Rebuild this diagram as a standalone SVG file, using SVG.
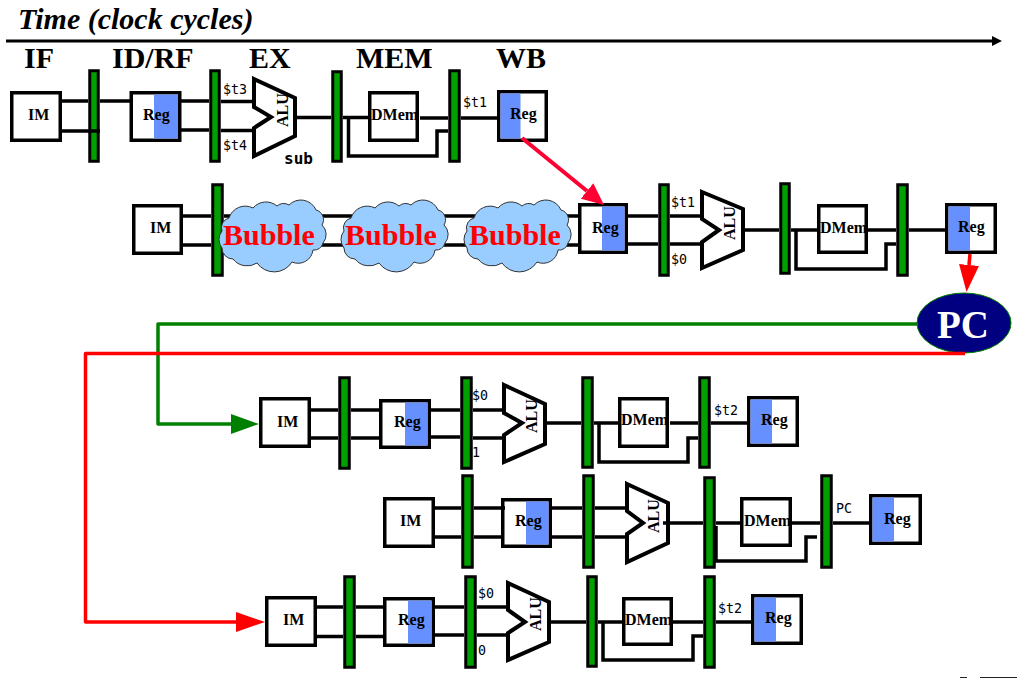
<svg xmlns="http://www.w3.org/2000/svg" width="1022" height="678" viewBox="0 0 1022 678">
<style>
.box{fill:#fff;stroke:#000;stroke-width:3.5}
.blue{fill:#6690ff}
.latch{fill:#00a000;stroke:#000;stroke-width:3}
.alu{fill:#fff;stroke:#000;stroke-width:4;stroke-miterlimit:8}
.wire{fill:none;stroke:#000;stroke-width:3.5}
.serif{font-family:"Liberation Serif",serif;font-weight:700;fill:#000}
.s{font-size:16px}
.head{font-size:30px}
.mono{font-family:"DejaVu Sans Mono",monospace;font-size:13.3px;fill:#000}
.bub{font-family:"Liberation Serif",serif;font-weight:700;font-size:30px;fill:#f00}
.cloud{fill:#99ccff;stroke:#333;stroke-width:1}
.g{fill:none;stroke:#008000;stroke-width:3.5}
.r{fill:none;stroke:#f00;stroke-width:3.5}
.c{fill:none;stroke:#ff0033;stroke-width:4}
</style>
<defs>
<marker id="mk" markerUnits="userSpaceOnUse" markerWidth="10" markerHeight="10" viewBox="0 0 10 10" refX="0" refY="5" orient="auto"><path d="M0 0L10 5L0 10z" fill="#000"/></marker>
<marker id="mg" markerUnits="userSpaceOnUse" markerWidth="28" markerHeight="20" viewBox="0 0 28 20" refX="0" refY="10" orient="auto"><path d="M0 0L28 10L0 20z" fill="#008000"/></marker>
<marker id="mr" markerUnits="userSpaceOnUse" markerWidth="29" markerHeight="20" viewBox="0 0 29 20" refX="0" refY="10" orient="auto"><path d="M0 0L29 10L0 20z" fill="#f00"/></marker>
<marker id="mr2" markerUnits="userSpaceOnUse" markerWidth="27" markerHeight="20" viewBox="0 0 27 20" refX="0" refY="10" orient="auto"><path d="M0 0L27 10L0 20z" fill="#f00"/></marker>
<marker id="mc" markerUnits="userSpaceOnUse" markerWidth="22" markerHeight="20" viewBox="0 0 22 20" refX="0" refY="10" orient="auto"><path d="M0 0L22 10L0 20z" fill="#ff0033"/></marker>
<path id="cl" d="M10 17A17 17 0 0 1 34 7A17 17 0 0 1 58 5A10 10 0 0 1 70 4A16.500 16.500 0 0 1 97 9A10 10 0 0 1 103 24A13 13 0 0 1 104 42A9 9 0 0 1 94 49A15 15 0 0 1 73 61A21 21 0 0 1 38 62A18 18 0 0 1 14 58A11 11 0 0 1 3 47A13.500 13.500 0 0 1 3 30A10 10 0 0 1 10 17z"/>
</defs>

<g id="title">
<text x="18" y="29" font-family="Liberation Serif,serif" font-weight="700" font-style="italic" font-size="30px" fill="#000">Time (clock cycles)</text>
<text class="serif head" x="24" y="68">IF</text>
<text class="serif head" x="112" y="68">ID/RF</text>
<text class="serif head" x="249" y="68">EX</text>
<text class="serif head" x="356" y="68">MEM</text>
<text class="serif head" x="496" y="68">WB</text>
</g>

<g id="r1-im"><rect class="box" x="11.75" y="92.75" width="48.5" height="47.5"/><text class="serif s" x="28" y="120">IM</text></g>
<g id="r1-l1"><rect class="latch" x="89.75" y="70.75" width="8.5" height="90.5"/></g>
<g id="r1-reg"><rect class="box" x="131.25" y="92.75" width="48.5" height="47.5"/><rect class="blue" x="154" y="94.5" width="24" height="44"/><text class="serif s" x="143" y="120">Reg</text></g>
<g id="r1-l2"><rect class="latch" x="210.75" y="70.75" width="8.5" height="90.5"/></g>
<g id="r1-alu"><path class="alu" d="M254 79L295 98V136L254 156V128L271 117L254 107z"/><text class="serif s" transform="translate(288 127) rotate(-90)">ALU</text></g>
<g id="r1-l3"><rect class="latch" x="332.75" y="71.75" width="8.5" height="89.5"/></g>
<g id="r1-dmem"><rect class="box" x="369.75" y="92.75" width="47.5" height="47.5"/><text class="serif s" x="371" y="120">DMem</text></g>
<g id="r1-l4"><rect class="latch" x="449.75" y="70.75" width="9.5" height="90.5"/></g>
<g id="r1-wb"><rect class="box" x="498.75" y="91.75" width="47.5" height="48.5"/><rect class="blue" x="500.5" y="93.5" width="20" height="45"/><text class="serif s" x="510" y="119">Reg</text></g>

<g id="r2-im"><rect class="box" x="133.75" y="205.75" width="47.5" height="47.5"/><text class="serif s" x="150" y="233">IM</text></g>
<g id="r2-l1"><rect class="latch" x="212.75" y="184.75" width="9.5" height="90.5"/></g>
<g id="r2-reg"><rect class="box" x="579.75" y="204.75" width="46.5" height="47.5"/><rect class="blue" x="602" y="206.5" width="22.5" height="44"/><text class="serif s" x="592" y="233">Reg</text></g>
<g id="r2-l2"><rect class="latch" x="659.75" y="184.75" width="8.5" height="90.5"/></g>
<g id="r2-alu"><path class="alu" d="M702 192L743 209V250L702 268V242L719 230L702 219z"/><text class="serif s" transform="translate(735 240) rotate(-90)">ALU</text></g>
<g id="r2-l3"><rect class="latch" x="780.75" y="183.75" width="8.5" height="89.5"/></g>
<g id="r2-dmem"><rect class="box" x="818.75" y="205.75" width="47.5" height="46.5"/><text class="serif s" x="820" y="233">DMem</text></g>
<g id="r2-l4"><rect class="latch" x="897.75" y="184.75" width="9.5" height="90.5"/></g>
<g id="r2-wb"><rect class="box" x="946.75" y="204.75" width="48.5" height="47.5"/><rect class="blue" x="948.5" y="206.5" width="21.5" height="44"/><text class="serif s" x="958" y="232">Reg</text></g>

<g id="pc"><ellipse cx="964" cy="323" rx="47" ry="30" fill="#000080" stroke="#008000" stroke-width="1"/><text x="937" y="338" font-family="Liberation Serif,serif" font-weight="700" font-size="39px" fill="#fff">PC</text></g>

<g id="r3-im"><rect class="box" x="260.75" y="398.75" width="48.5" height="47.5"/><text class="serif s" x="277" y="427">IM</text></g>
<g id="r3-l1"><rect class="latch" x="339.75" y="377.75" width="9.5" height="90.5"/></g>
<g id="r3-reg"><rect class="box" x="380.75" y="400.75" width="48.5" height="46.5"/><rect class="blue" x="405" y="402.5" width="22.5" height="43"/><text class="serif s" x="394" y="427">Reg</text></g>
<g id="r3-l2"><rect class="latch" x="461.75" y="377.75" width="9.5" height="90.5"/></g>
<g id="r3-alu"><path class="alu" d="M504 385L545 404V444L504 462V435L522 423L504 413z"/><text class="serif s" transform="translate(537 433) rotate(-90)">ALU</text></g>
<g id="r3-l3"><rect class="latch" x="582.75" y="377.75" width="9.5" height="89.5"/></g>
<g id="r3-dmem"><rect class="box" x="619.75" y="398.75" width="47.5" height="47.5"/><text class="serif s" x="621" y="425">DMem</text></g>
<g id="r3-l4"><rect class="latch" x="699.75" y="377.75" width="9.5" height="89.5"/></g>
<g id="r3-wb"><rect class="box" x="748.75" y="397.75" width="48.5" height="47.5"/><rect class="blue" x="750.5" y="399.5" width="21.5" height="44"/><text class="serif s" x="761" y="425">Reg</text></g>

<g id="r4-im"><rect class="box" x="384.75" y="498.75" width="48.5" height="47.5"/><text class="serif s" x="400" y="526">IM</text></g>
<g id="r4-l1"><rect class="latch" x="462.75" y="475.75" width="9.5" height="91.5"/></g>
<g id="r4-reg"><rect class="box" x="502.75" y="499.75" width="47.5" height="46.5"/><rect class="blue" x="526" y="501.5" width="22.5" height="43"/><text class="serif s" x="515" y="526">Reg</text></g>
<g id="r4-l2"><rect class="latch" x="583.75" y="475.75" width="9.5" height="91.5"/></g>
<g id="r4-alu"><path class="alu" d="M627 484L668 503V543L627 562V534L643 523L627 511z"/><text class="serif s" transform="translate(659 533) rotate(-90)">ALU</text></g>
<g id="r4-l3"><rect class="latch" x="704.75" y="477.75" width="9.5" height="89.5"/></g>
<g id="r4-dmem"><rect class="box" x="741.75" y="498.75" width="48.5" height="46.5"/><text class="serif s" x="744" y="526">DMem</text></g>
<g id="r4-l4"><rect class="latch" x="821.75" y="475.75" width="9.5" height="91.5"/></g>
<g id="r4-wb"><rect class="box" x="870.75" y="495.75" width="49.5" height="47.5"/><rect class="blue" x="872.5" y="497.5" width="21.5" height="44"/><text class="serif s" x="884" y="524">Reg</text></g>

<g id="r5-im"><rect class="box" x="266.75" y="597.75" width="48.5" height="47.5"/><text class="serif s" x="283" y="625">IM</text></g>
<g id="r5-l1"><rect class="latch" x="344.75" y="576.75" width="9.5" height="90.5"/></g>
<g id="r5-reg"><rect class="box" x="384.75" y="598.75" width="48.5" height="46.5"/><rect class="blue" x="408" y="600.5" width="23.5" height="43"/><text class="serif s" x="398" y="625">Reg</text></g>
<g id="r5-l2"><rect class="latch" x="465.75" y="576.75" width="9.5" height="90.5"/></g>
<g id="r5-alu"><path class="alu" d="M508 583L549 602V642L508 660V633L525 622L508 610z"/><text class="serif s" transform="translate(541 631) rotate(-90)">ALU</text></g>
<g id="r5-l3"><rect class="latch" x="587.75" y="576.75" width="8.5" height="89.5"/></g>
<g id="r5-dmem"><rect class="box" x="623.75" y="598.75" width="47.5" height="45.5"/><text class="serif s" x="625" y="625">DMem</text></g>
<g id="r5-l4"><rect class="latch" x="704.75" y="576.75" width="9.5" height="90.5"/></g>
<g id="r5-wb"><rect class="box" x="752.75" y="595.75" width="48.5" height="47.5"/><rect class="blue" x="754.5" y="597.5" width="21.5" height="44"/><text class="serif s" x="765" y="623">Reg</text></g>

<g id="connectors">
<path d="M6 41H992" fill="none" stroke="#000" stroke-width="3" marker-end="url(#mk)"/>
<path class="wire" d="M62 101H88M62 131H100M100 101H131M178 101H209M178 130H209M221 101.500H254M221 130.500H254M295 117.500H331M343 117.500H368M420 118H448M348.500 117V156H437V131H448M461 118H497"/>
<path class="wire" d="M183 216H211M183 245H211M224 216H578M224 245H578M628 216H658M628 244H658M670 216H702M670 244H702M743 230H779M791 230H817M868 230H896M796 230V269H886V244H896M909 230H945"/>
<path class="wire" d="M311 410H338M311 438H338M351 410H380M351 438H382M430 410H460M430 437H460M473 410H504M473 438H504M546 423H581M594 423H618M670 423H698M599 423V462H688V438H698M711 423H747"/>
<path class="wire" d="M435 508H461M435 537H461M474 508H505M474 537H501M552 508H582M552 537H582M595 508H627M595 537H627M663 523H703M716 523H740M792 523H820M716 526V561H806V537H817M833 523H869"/>
<path class="wire" d="M317 607H343M317 636.500H343M356 607H385M356 636.500H385M435 607H464M435 635H464M477 607H508M477 635H508M549 622H586M598 622H622M673 622H703M603 622V660H693V636H703M716 622H751"/>
<path class="c" d="M522 138L587 191" marker-end="url(#mc)"/>
<path class="r" d="M970 254L969 265" marker-end="url(#mr2)"/>
<path class="g" d="M918 324H158V424H231" stroke-linejoin="round" marker-end="url(#mg)"/>
<path class="r" d="M965 353.500H85.500V622H236" stroke-linejoin="round" marker-end="url(#mr)"/>
</g>

<g id="bubble-1"><use href="#cl" class="cloud" x="219" y="201"/><text class="bub" x="223" y="245">Bubble</text></g>
<g id="bubble-2"><use href="#cl" class="cloud" x="341" y="201"/><text class="bub" x="345" y="245">Bubble</text></g>
<g id="bubble-3"><use href="#cl" class="cloud" x="464" y="201"/><text class="bub" x="469" y="245">Bubble</text></g>

<g id="labels">
<text class="mono" x="223" y="94">$t3</text>
<text class="mono" x="223" y="150">$t4</text>
<text x="284" y="164" font-family="DejaVu Sans Mono,monospace" font-weight="700" font-size="16px" fill="#000">sub</text>
<text class="mono" x="463" y="107">$t1</text>
<text class="mono" x="671" y="207">$t1</text>
<text class="mono" x="671" y="264">$0</text>
<text class="mono" x="472" y="400">$0</text>
<text class="mono" x="472" y="457">1</text>
<text class="mono" x="714" y="415">$t2</text>
<text class="mono" x="836" y="513">PC</text>
<text class="mono" x="478" y="598">$0</text>
<text class="mono" x="478" y="655">0</text>
<text class="mono" x="718" y="613">$t2</text>
</g>
<path d="M960 677.500H967M980 677.500H1017" stroke="#222" stroke-width="1" fill="none"/>
</svg>
